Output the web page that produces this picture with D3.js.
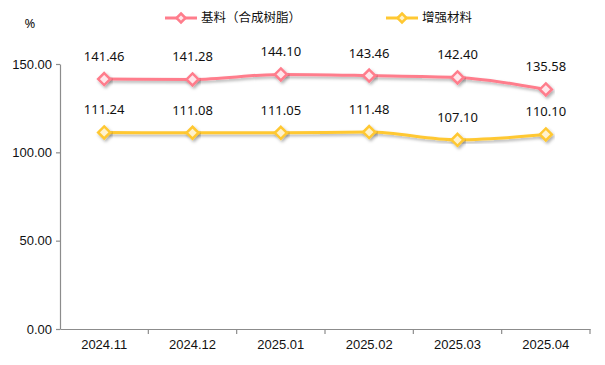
<!DOCTYPE html>
<html>
<head>
<meta charset="utf-8">
<script src="https://cdn.jsdelivr.net/npm/d3@7.9.0/dist/d3.min.js"></script>
<style>
  body { margin: 0; background: #fff; }
  svg { display: block; font-family: "Noto Sans", "Noto Sans CJK SC", sans-serif; }
</style>
</head>
<body>
<svg width="605" height="365"></svg>
<script>
const months = ['2024.11', '2024.12', '2025.01', '2025.02', '2025.03', '2025.04'];
const resin = [141.46, 141.28, 144.10, 143.46, 142.40, 135.58];
const reinforce = [111.24, 111.08, 111.05, 111.48, 107.10, 110.10];
const yTicks = [0, 50, 100, 150];
const seriesNames = ['基料（合成树脂）', '增强材料'];
const colors = ['#ff7d8c', '#ffc832'];
const fills = ['#ffe6ea', '#fff2cc'];

const svg = d3.select('svg');
const margin = { left: 60, right: 15, top: 64, bottom: 36 };
const width = 605, height = 365;

const x = d3.scaleBand()
    .domain(months)
    .range([margin.left, width - margin.right]);
const y = d3.scaleLinear()
    .domain([0, 150])
    .range([height - margin.bottom, margin.top]);

// drop shadow for lines and markers
const defs = svg.append('defs');
const filter = defs.append('filter')
    .attr('id', 'shadow')
    .attr('x', '-20%').attr('y', '-50%')
    .attr('width', '140%').attr('height', '200%');
filter.append('feDropShadow')
    .attr('dx', 1.5).attr('dy', 2)
    .attr('stdDeviation', 1.8)
    .attr('flood-opacity', 0.3);

// axes
const xAxis = svg.append('g')
    .attr('transform', `translate(0,${y(0)})`)
    .call(d3.axisBottom(x).tickSize(0).tickPadding(11));
xAxis.select('.domain').attr('stroke', '#8c8c8c').attr('stroke-width', 1.2);
xAxis.selectAll('text').attr('font-size', 13).attr('fill', '#111');
// band boundary ticks
const bounds = months.map(m => x(m) + x.bandwidth());
xAxis.selectAll('.btick')
    .data(bounds)
    .join('line')
    .attr('class', 'btick')
    .attr('x1', d => d).attr('x2', d => d)
    .attr('y1', 0).attr('y2', 5)
    .attr('stroke', '#8c8c8c').attr('stroke-width', 1.2);

const yAxis = svg.append('g')
    .attr('transform', `translate(${margin.left},0)`)
    .call(d3.axisLeft(y).tickValues(yTicks).tickFormat(d3.format('.2f')).tickSize(4).tickPadding(4).tickSizeOuter(0));
yAxis.select('.domain').attr('stroke', '#8c8c8c').attr('stroke-width', 1.2);
yAxis.selectAll('.tick line').attr('stroke', '#8c8c8c').attr('stroke-width', 1.2);
yAxis.selectAll('text').attr('font-size', 13).attr('fill', '#111');

svg.append('text')
    .attr('x', 30).attr('y', 28)
    .attr('text-anchor', 'middle')
    .attr('font-size', 13)
    .attr('fill', '#111')
    .text('%');

// series
const line = d3.line()
    .x((d, i) => x(months[i]) + x.bandwidth() / 2)
    .y(d => y(d))
    .curve(d3.curveMonotoneX);

const diamond = s => `M0,${-s}L${s},0L0,${s}L${-s},0Z`;

[resin, reinforce].forEach((values, k) => {
    const g = svg.append('g');
    g.append('path')
        .attr('d', line(values))
        .attr('fill', 'none')
        .attr('stroke', colors[k])
        .attr('stroke-width', 3)
        .attr('filter', 'url(#shadow)');
    g.selectAll('.pt')
        .data(values)
        .join('path')
        .attr('class', 'pt')
        .attr('d', diamond(6))
        .attr('transform', (d, i) => `translate(${x(months[i]) + x.bandwidth() / 2},${y(d)})`)
        .attr('fill', fills[k])
        .attr('stroke', colors[k])
        .attr('stroke-width', 2.5)
        .attr('filter', 'url(#shadow)');
    g.selectAll('.lbl')
        .data(values)
        .join('text')
        .attr('class', 'lbl')
        .attr('x', (d, i) => x(months[i]) + x.bandwidth() / 2)
        .attr('y', d => y(d) - 18)
        .attr('text-anchor', 'middle')
        .attr('font-size', 13)
        .attr('fill', '#111')
        .text(d => d.toFixed(2));
});

// legend
const legendX = [165, 386];
seriesNames.forEach((name, k) => {
    const lg = svg.append('g').attr('transform', `translate(${legendX[k]},18)`);
    lg.append('line')
        .attr('x1', 0).attr('x2', 32)
        .attr('stroke', colors[k]).attr('stroke-width', 3);
    lg.append('path')
        .attr('d', diamond(4.5))
        .attr('transform', 'translate(16,0)')
        .attr('fill', fills[k])
        .attr('stroke', colors[k])
        .attr('stroke-width', 2.5);
    lg.append('text')
        .attr('x', 36).attr('y', 0)
        .attr('dy', '0.35em')
        .attr('font-size', 12.5)
        .attr('font-family', '"Noto Sans CJK SC", sans-serif')
        .attr('fill', '#111')
        .text(name);
});
</script>
</body>
</html>
